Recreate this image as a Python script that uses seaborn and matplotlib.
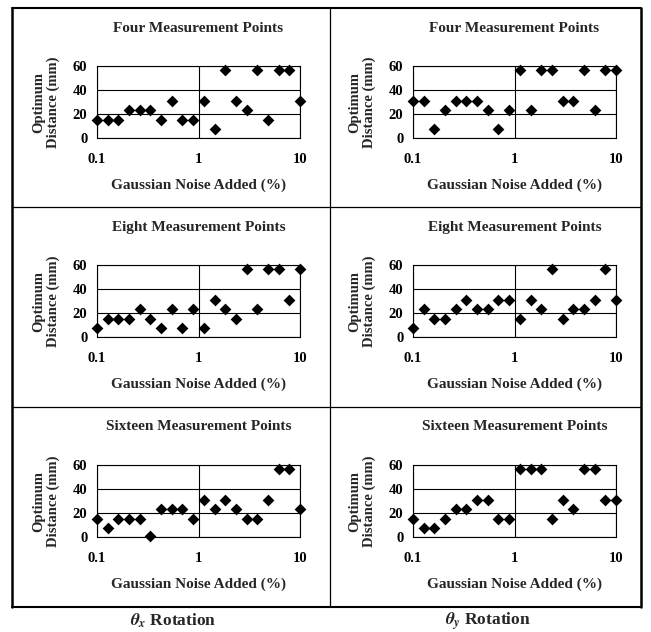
import matplotlib
matplotlib.use("Agg")
import matplotlib.pyplot as plt
import seaborn as sns
import numpy as np
from matplotlib.lines import Line2D

# noise levels (%)
noise = [0.1, 0.127, 0.162, 0.207, 0.264, 0.336, 0.428, 0.546, 0.695, 0.886,
         1.13, 1.44, 1.83, 2.34, 2.98, 3.79, 4.83, 6.16, 7.85, 10.0]

# optimum distance (mm)
four_x = [15, 15, 15, 23, 23, 23, 15, 31, 15, 15,
          31, 7.5, 57, 31, 23, 57, 15, 57, 57, 31]
four_y = [31, 31, 7.5, 23, 31, 31, 31, 23, 7.5, 23,
          57, 23, 57, 57, 31, 31, 57, 23, 57, 57]
eight_x = [7.5, 15, 15, 15, 23, 15, 7.5, 23, 7.5, 23,
           7.5, 31, 23, 15, 57, 23, 57, 57, 31, 57]
eight_y = [7.5, 23, 15, 15, 23, 31, 23, 23, 31, 31,
           15, 31, 23, 57, 15, 23, 23, 31, 57, 31]
sixteen_x = [15, 7.5, 15, 15, 15, 1, 23, 23, 23, 15,
             31, 23, 31, 23, 15, 15, 31, 57, 57, 23]
sixteen_y = [15, 7.5, 7.5, 15, 23, 23, 31, 31, 15, 15,
             57, 57, 57, 15, 31, 23, 57, 57, 31, 31]

titles = ["Four Measurement Points", "Eight Measurement Points", "Sixteen Measurement Points"]
panels = [[four_x, four_y], [eight_x, eight_y], [sixteen_x, sixteen_y]]
col_labels = [r"$\theta_x$ Rotation", r"$\theta_y$ Rotation"]

sns.set_theme(style="white")
plt.rcParams["font.family"] = ["Liberation Serif", "DejaVu Serif"]
plt.rcParams["font.weight"] = "bold"
plt.rcParams["mathtext.fontset"] = "stix"

W, H = 651, 632
fig = plt.figure(figsize=(W / 100, H / 100), dpi=100)


def fx(px):
    return px / W


def fy(py):
    return 1 - py / H


col_left = [97, 413]
ax_w = 203
row_top = [66, 265, 465]
ax_h = 72

for r in range(3):
    for c in range(2):
        left = col_left[c]
        top = row_top[r]
        ax = fig.add_axes([fx(left), fy(top + ax_h), ax_w / W, ax_h / H])
        sns.scatterplot(x=noise, y=panels[r][c], marker="D", color="black",
                        s=36, edgecolor="black", linewidth=0, ax=ax,
                        clip_on=False, zorder=5)
        ax.set_xscale("log")
        ax.set_xlim(0.1, 10)
        ax.set_ylim(0, 60)
        ax.set_xticks([0.1, 1, 10])
        ax.set_xticklabels(["0.1", "1", "10"])
        ax.minorticks_off()
        ax.set_yticks([0, 20, 40, 60])
        ax.tick_params(axis="both", labelsize=10.5, length=3, width=0.8,
                       color="black", labelcolor="black")
        ax.tick_params(axis="x", pad=8)
        ax.tick_params(axis="y", pad=4)
        for lab in ax.get_xticklabels() + ax.get_yticklabels():
            lab.set_fontweight("bold")
        ax.grid(True, which="major", color="black", linewidth=0.8)
        for sp in ax.spines.values():
            sp.set_color("black")
            sp.set_linewidth(0.8)
            sp.set_visible(True)
        ax.set_ylabel("Optimum\nDistance (mm)", fontsize=10.5, fontweight="bold",
                      linespacing=1.15)
        ax.yaxis.set_label_coords(-0.18, 0.5)
        ax.set_xlabel("")
        cx = left + ax_w / 2
        fig.text(fx(cx), fy(top - 38), titles[r], ha="center", va="center",
                 fontsize=11, fontweight="bold")
        fig.text(fx(cx), fy(top + 119), "Gaussian Noise Added (%)",
                 ha="center", va="center", fontsize=11, fontweight="bold")

# frame lines around the grid of panels
def hline(y, x0, x1, lw):
    fig.add_artist(Line2D([fx(x0), fx(x1)], [fy(y), fy(y)], color="black", lw=lw))


def vline(x, y0, y1, lw):
    fig.add_artist(Line2D([fx(x), fx(x)], [fy(y0), fy(y1)], color="black", lw=lw))


hline(8, 12, 641, 1.5)
hline(607, 12, 641, 1.5)
hline(207, 12, 641, 0.9)
hline(407, 12, 641, 0.9)
vline(12, 8, 607, 1.8)
vline(641, 8, 607, 1.8)
vline(330, 8, 607, 0.9)

for c, lab in enumerate(col_labels):
    cx = [173, 488][c]
    fig.text(fx(cx), fy(621), lab, ha="center", va="center",
             fontsize=12.5, fontweight="bold")

fig.savefig("out.png", dpi=100, facecolor="white")
